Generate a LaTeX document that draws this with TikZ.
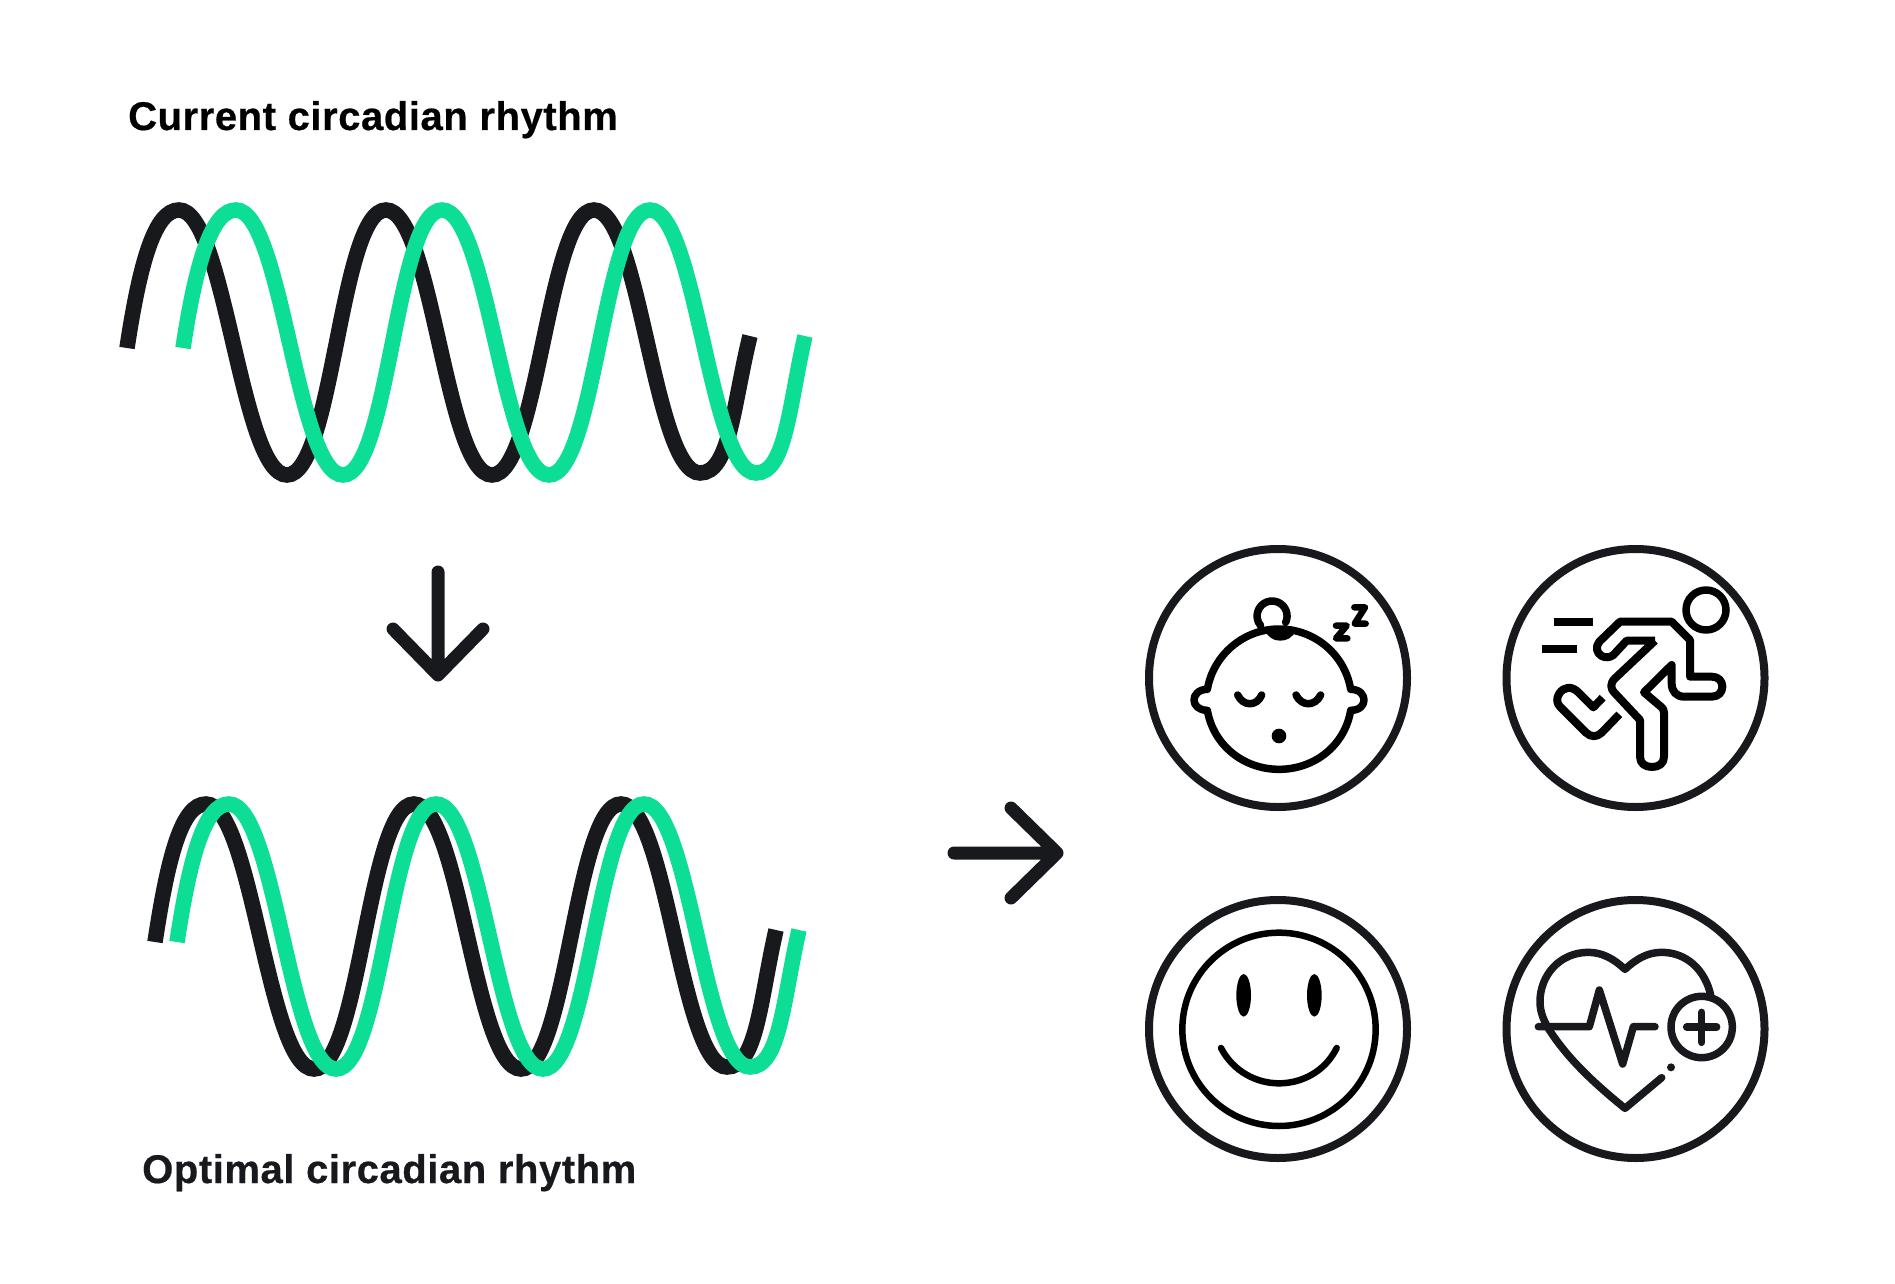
\documentclass[tikz,border=0pt]{standalone}
\usepackage{fontspec}
\setmainfont{Liberation Sans}
\newfontfamily\titlefont[LetterSpace=1.4,FakeBold=0.5]{Liberation Sans Bold}
\definecolor{ink}{HTML}{18191D}
\definecolor{mint}{HTML}{0DDE96}
\tikzset{
  x=1pt,y=-1pt,
  wv/.style={out=0,in=180,out distance=46pt,in distance=46pt},
  wavebl/.style={draw=ink,line width=15.5pt,line cap=butt},
  wavegr/.style={draw=mint,line width=15.5pt,line cap=butt},
  bigarrow/.style={draw=ink,line width=13pt,line cap=round,line join=round},
  ring/.style={draw=ink,line width=8pt},
  ico/.style={draw=black,line width=7.5pt,line cap=round,line join=round},
  icob/.style={draw=black,line width=8pt,line cap=butt,line join=round},
  icoi/.style={draw=ink,line width=7.5pt,line cap=round,line join=round},
  title/.style={anchor=base west,inner sep=0pt,font=\titlefont\fontsize{40}{40}\selectfont},
}
\begin{document}
\begin{tikzpicture}
\path[use as bounding box,fill=white] (0,0) rectangle (1895,1284);
\node[title,text=black] (current) at (128,130) {Current circadian rhythm};
\node[title,text=ink] (optimal) at (142,1183) {Optimal circadian rhythm};
% current wave
\draw[wavebl] (127,348) .. controls (140,262) and (155,210) .. (179,210)
  to[wv] (287,475) to[wv] (386,210) to[wv] (492,475) to[wv] (594,210) to[wv] (700,473)
  .. controls (730,473) and (733,405) .. (750,336);
\draw[wavegr] (183,348) .. controls (196,262) and (212,210) .. (236,210)
  to[wv] (343,475) to[wv] (442,210) to[wv] (549,475) to[wv] (650,210) to[wv] (756,473)
  .. controls (786,473) and (789,405) .. (805,336);
% optimal wave
\draw[wavebl] (155,942) .. controls (168,856) and (182,804) .. (206,804)
  to[wv] (314,1069) to[wv] (414,804) to[wv] (521,1069) to[wv] (621,804) to[wv] (727,1067)
  .. controls (757,1067) and (760,1000) .. (776,930);
\draw[wavegr] (177,942) .. controls (190,856) and (205,804) .. (229,804)
  to[wv] (336,1069) to[wv] (436,804) to[wv] (543,1069) to[wv] (644,804) to[wv] (750,1067)
  .. controls (780,1067) and (783,1000) .. (799,930);
% arrows
\coordinate (dS) at (438,572); \coordinate (dE) at (438,675);
\coordinate (dL) at (393,629); \coordinate (dR) at (483,629);
\draw[bigarrow] (dS) -- (dE) (dL) -- (dE) -- (dR);
\coordinate (rS) at (954,853); \coordinate (rE) at (1057,853);
\coordinate (rU) at (1011,808); \coordinate (rD) at (1011,898);
\draw[bigarrow] (rS) -- (rE) (rU) -- (rE) -- (rD);
% rings
\node[ring,circle,minimum size=258pt,inner sep=0pt] (r1) at (1278,678) {};
\node[ring,circle,minimum size=258pt,inner sep=0pt] (r2) at (1635.5,678) {};
\node[ring,circle,minimum size=258pt,inner sep=0pt] (r3) at (1278,1029) {};
\node[ring,circle,minimum size=258pt,inner sep=0pt] (r4) at (1635.5,1029) {};
% baby
\begin{scope}[shift={(1130,530)},x=1/3*1pt,y=-1/3*1pt]
\draw[ico] (232,478) .. controls (250,375) and (340,297) .. (447,297)
  .. controls (555,297) and (645,375) .. (662,478)
  .. controls (690,478) and (702,495) .. (702,510) .. controls (702,525) and (690,541) .. (662,541)
  .. controls (645,645) and (555,718) .. (447,718)
  .. controls (340,718) and (250,645) .. (232,541)
  .. controls (205,541) and (192,525) .. (192,510) .. controls (192,495) and (205,478) .. (232,478) -- cycle;
\draw[ico] (467,277) arc[start angle=25,end angle=-220,radius=45];
\fill[black] (403,300) .. controls (430,292) and (470,292) .. (497,303) .. controls (485,325) and (470,332) .. (450,332) .. controls (430,332) and (415,322) .. (403,300) -- cycle;
\draw[ico] (323,495) .. controls (340,530) and (380,530) .. (395,495);
\draw[ico] (498,495) .. controls (515,530) and (555,530) .. (572,495);
\fill[black] (447,618) circle[radius=22];
\draw[ico,line width=6.5pt] (618,287) -- (650,287) -- (618,325) -- (652,325);
\draw[ico,line width=6.5pt] (673,232) -- (705,232) -- (674,281) -- (707,281);
\end{scope}
% runner
\begin{scope}[shift={(1490,530)},x=1/3*1pt,y=-1/3*1pt]
\draw[ico] (648,240) circle[radius=60];
\draw[draw=black,line width=7.3pt] (191,276) -- (308,276) (156,357) -- (262,357);
\draw[icob] (495,332) -- (375,445) .. controls (360,460) and (360,475) .. (375,490)
  -- (450,570) -- (450,680) .. controls (450,700) and (465,711) .. (486,711)
  .. controls (507,711) and (522,700) .. (522,680) -- (522,548) .. controls (522,540) and (518,535) .. (515,532)
  -- (462,487) -- (545,405) -- (545,460) .. controls (545,485) and (560,500) .. (582,500)
  -- (665,500) .. controls (685,500) and (697,487) .. (697,470) .. controls (697,453) and (685,440) .. (665,440)
  -- (600,440) -- (600,330) -- (545,275) -- (390,275) -- (328,335)
  .. controls (315,350) and (320,370) .. (335,378) .. controls (348,385) and (360,382) .. (370,375)
  -- (410,332) -- (495,332);
\draw[icob] (338,503) -- (310,532) -- (265,487) .. controls (245,467) and (222,470) .. (208,490)
  .. controls (198,505) and (200,520) .. (210,530) -- (288,608) .. controls (303,622) and (320,622) .. (335,608) -- (388,553);
\end{scope}
% smiley
\begin{scope}[shift={(1130,890)},x=1/3*1pt,y=-1/3*1pt]
\draw[draw=black,line width=6.5pt] (447,418) circle[radius=290];
\fill[black] (341,316) ellipse[x radius=22,y radius=64];
\fill[black] (553,316) ellipse[x radius=22,y radius=64];
\draw[ico,line width=6.5pt] (273,474) .. controls (310,545) and (380,580) .. (447,580) .. controls (515,580) and (585,545) .. (620,474);
\end{scope}
% heart
\begin{scope}[shift={(1490,890)},x=1/3*1pt,y=-1/3*1pt]
\draw[icoi] (515,563) -- (405,655) .. controls (300,570) and (230,500) .. (178,420)
  .. controls (160,390) and (150,365) .. (150,335) .. controls (150,255) and (210,187) .. (295,187)
  .. controls (335,187) and (370,205) .. (405,238) .. controls (440,205) and (475,187) .. (515,187)
  .. controls (590,187) and (645,240) .. (662,315);
\draw[icoi] (145,410) -- (298,410) -- (328,300) -- (398,522) -- (430,410) -- (495,410);
\draw[icoi] (635,411) circle[radius=92];
\draw[icoi] (590,411) -- (680,411) (635,367) -- (635,457);
\fill[ink] (543,532) circle[radius=12];
\end{scope}
\end{tikzpicture}
\end{document}
